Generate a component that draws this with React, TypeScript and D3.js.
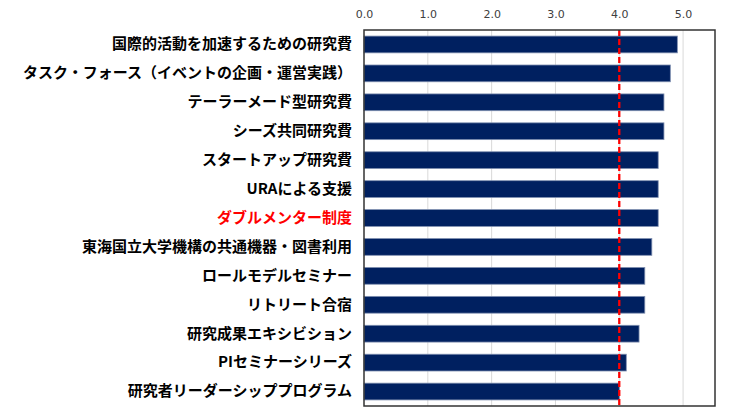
import React, { useEffect, useRef } from 'react';
import * as d3 from 'd3';

const categories = [
  '国際的活動を加速するための研究費',
  'タスク・フォース（イベントの企画・運営実践）',
  'テーラーメード型研究費',
  'シーズ共同研究費',
  'スタートアップ研究費',
  'URAによる支援',
  'ダブルメンター制度',
  '東海国立大学機構の共通機器・図書利用',
  'ロールモデルセミナー',
  'リトリート合宿',
  '研究成果エキシビション',
  'PIセミナーシリーズ',
  '研究者リーダーシッププログラム',
];

const scores = [4.91, 4.8, 4.7, 4.7, 4.61, 4.61, 4.61, 4.51, 4.4, 4.4, 4.31, 4.11, 4.0];

const tickValues = [0, 1, 2, 3, 4, 5];
const threshold = 4.0;
const highlighted = 'ダブルメンター制度';

export default function App() {
  const svgRef = useRef<SVGSVGElement>(null);

  useEffect(() => {
    if (!svgRef.current) return;

    d3.select(svgRef.current).selectAll('*').remove();

    const margin = { top: 30, right: 38, bottom: 13, left: 364 };
    const width = 753 - margin.left - margin.right;
    const height = 419 - margin.top - margin.bottom;

    const svg = d3
      .select(svgRef.current)
      .append('g')
      .attr('transform', `translate(${margin.left},${margin.top})`);

    const x = d3.scaleLinear().domain([0, 5.5]).range([0, width]);

    const y = d3.scaleBand().domain(categories).range([0, height]).paddingInner(0.42).paddingOuter(0.21);

    // grid lines
    svg
      .selectAll('.grid')
      .data(tickValues.slice(1))
      .enter()
      .append('line')
      .attr('x1', (d) => x(d))
      .attr('x2', (d) => x(d))
      .attr('y1', 0)
      .attr('y2', height)
      .attr('stroke', '#d9d9d9')
      .attr('stroke-width', 1);

    // bars
    svg
      .selectAll('.bar')
      .data(categories)
      .enter()
      .append('rect')
      .attr('x', 0)
      .attr('y', (d) => y(d)!)
      .attr('width', (_, i) => x(scores[i]))
      .attr('height', y.bandwidth())
      .attr('fill', '#002060')
      .attr('stroke', '#7f8fb0')
      .attr('stroke-width', 0.8);

    // threshold
    svg
      .append('line')
      .attr('x1', x(threshold))
      .attr('x2', x(threshold))
      .attr('y1', 0)
      .attr('y2', height)
      .attr('stroke', '#ff0000')
      .attr('stroke-width', 2.3)
      .attr('stroke-dasharray', '6,3');

    // frame
    svg
      .append('rect')
      .attr('x', 0)
      .attr('y', 0)
      .attr('width', width)
      .attr('height', height)
      .attr('fill', 'none')
      .attr('stroke', '#333333')
      .attr('stroke-width', 1.5);

    // top axis
    const xAxis = svg
      .append('g')
      .call(
        d3
          .axisTop(x)
          .tickValues(tickValues)
          .tickFormat(d3.format('.1f'))
          .tickSize(0)
          .tickPadding(12)
      );
    xAxis.select('.domain').remove();
    xAxis
      .selectAll('text')
      .attr('font-family', '"DejaVu Sans", Verdana, sans-serif')
      .attr('font-size', 11)
      .attr('fill', '#404040');

    // category labels
    const yAxis = svg
      .append('g')
      .call(d3.axisLeft(y).tickSize(0).tickPadding(12));
    yAxis.select('.domain').remove();
    yAxis
      .selectAll('text')
      .attr('font-family', '"Noto Sans CJK JP", sans-serif')
      .attr('font-weight', 'bold')
      .attr('font-size', 15)
      .attr('fill', (d) => (d === highlighted ? '#ff0000' : '#000000'));
  }, []);

  return (
    <svg
      ref={svgRef}
      width={753}
      height={419}
      style={{ position: 'absolute', left: 0, top: 0, background: '#ffffff' }}
    />
  );
}
